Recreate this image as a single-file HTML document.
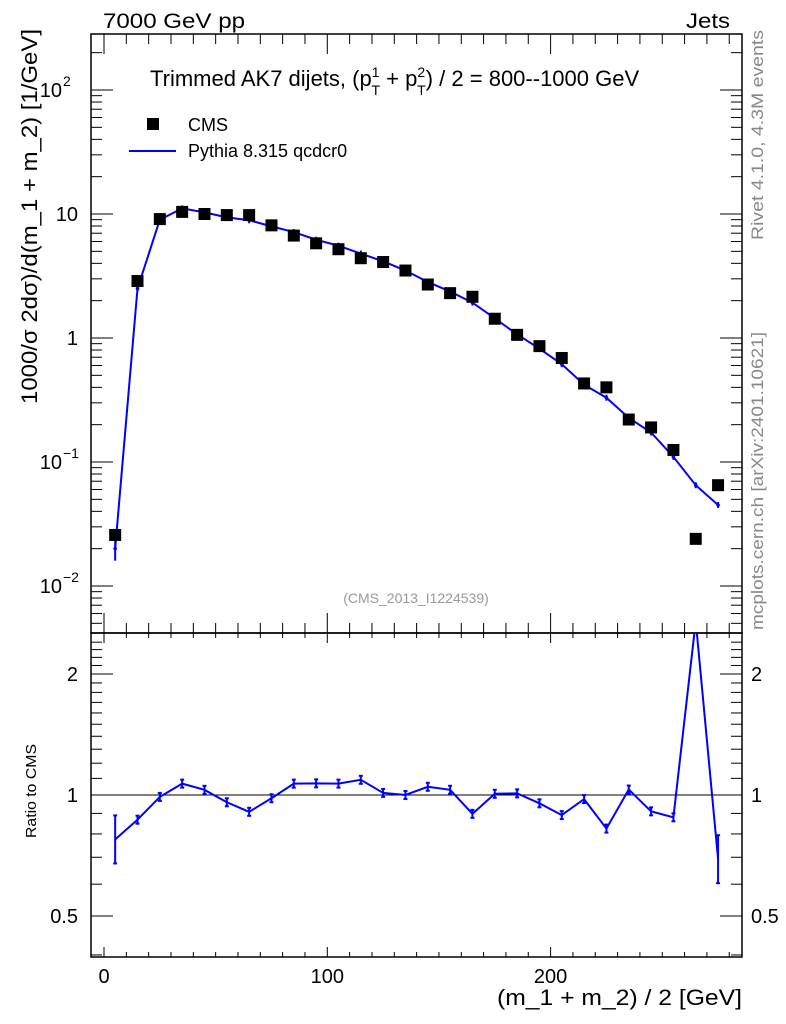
<!DOCTYPE html>
<html><head><meta charset="utf-8"><style>
body{margin:0;background:#fff;}
svg{display:block;font-family:"Liberation Sans",sans-serif;}
</style></head><body>
<svg id="c" width="786" height="1024" xmlns="http://www.w3.org/2000/svg">
<rect width="786" height="1024" fill="#fff"/>
<g id="g"></g>
<text x="103" y="28" font-size="21" textLength="142" lengthAdjust="spacingAndGlyphs">7000 GeV pp</text>
<text x="686" y="28" font-size="21" textLength="44" lengthAdjust="spacingAndGlyphs">Jets</text>
<text x="150" y="86" font-size="22">Trimmed AK7 dijets, (p<tspan dy="-9" font-size="14">1</tspan><tspan dx="-8" dy="18" font-size="14">T</tspan><tspan dy="-9"> + p</tspan><tspan dy="-9" font-size="14">2</tspan><tspan dx="-8" dy="18" font-size="14">T</tspan><tspan dy="-9">) / 2 = 800--1000 GeV</tspan></text>
<rect x="147" y="118" width="12" height="12" fill="#000"/>
<text x="188" y="131" font-size="18">CMS</text>
<line x1="129" y1="151" x2="176" y2="151" stroke="#00f" stroke-width="2"/>
<text x="188" y="157" font-size="18">Pythia 8.315 qcdcr0</text>
<text x="416" y="603" font-size="14" fill="#999" text-anchor="middle">(CMS_2013_I1224539)</text>
<text transform="translate(763,240) rotate(-90)" font-size="17" fill="#888" textLength="210" lengthAdjust="spacingAndGlyphs">Rivet 4.1.0,  4.3M events</text>
<text transform="translate(763,630) rotate(-90)" font-size="17" fill="#888" textLength="298" lengthAdjust="spacingAndGlyphs">mcplots.cern.ch [arXiv:2401.10621]</text>
<text transform="translate(37,404) rotate(-90)" font-size="22" textLength="375" lengthAdjust="spacingAndGlyphs">1000/σ   2dσ)/d(m_1 + m_2) [1/GeV]</text>
<text transform="translate(36,838) rotate(-90)" font-size="15" textLength="94" lengthAdjust="spacingAndGlyphs">Ratio to CMS</text>
<text x="497" y="1005" font-size="22" textLength="245" lengthAdjust="spacingAndGlyphs">(m_1 + m_2) / 2 [GeV]</text>
</svg>
<script>
const bins=[5,15,25,35,45,55,65,75,85,95,105,115,125,135,145,155,165,175,185,195,205,215,225,235,245,255,265,275];
const cms=[0.0258,2.88,9.1,10.4,10,9.8,9.8,8.1,6.7,5.8,5.2,4.4,4.1,3.5,2.7,2.3,2.15,1.43,1.06,0.86,0.69,0.43,0.40,0.22,0.19,0.125,0.024,0.065];
const pythia=[0.020,2.5,9.0,11.1,10.3,9.4,8.9,7.95,7.15,6.2,5.55,4.8,4.15,3.5,2.83,2.37,1.93,1.44,1.07,0.82,0.615,0.42,0.33,0.227,0.173,0.11,0.065,0.045];
const xTicks=[0,100,200];
const yTicks=[-2,-1,0,1,2];
const yTickLabels=["10","10","1","10","10"];
const yTickExp=["−2","−1","","","2"];
const rTicks=[0.5,1,2];
const rTickLabels=["0.5","1","2"];
const NS="http://www.w3.org/2000/svg";
const g=document.getElementById('g');
const L=91,R=742,T=34,M=633,B=957;
const X=v=>104+(v)*2.233;
const Y=v=>214-124*(Math.log10(v)-1);
const RY=v=>795-121*Math.log2(v);
function el(t,a,p){const e=document.createElementNS(NS,t);for(const k in a)e.setAttribute(k,a[k]);(p||g).appendChild(e);return e;}
let f=el('rect',{x:L,y:T,width:R-L,height:M-T,fill:'none',stroke:'#000','stroke-width':1.5});


f=el('rect',{x:L,y:M,width:R-L,height:B-M,fill:'none',stroke:'#000','stroke-width':1.5});


for(let v=0;v<=290;v+=10){const x=X(v);if(x<L||x>R)continue;const maj=v%100==0;
 [[T,1,maj?20:10],[M,-1,maj?20:10],[M,1,maj?10:5],[B,-1,maj?10:5]].forEach(([y,d,len])=>el('line',{x1:x,x2:x,y1:y,y2:y+d*len,stroke:'#000'}));}
xTicks.forEach(v=>{const t=el('text',{x:X(v),y:983,'font-size':20,'text-anchor':'middle'});t.textContent=v;

});
for(let d=-3;d<=2;d++)for(let m=1;m<10;m++){const v=m*Math.pow(10,d);const y=Y(v);if(y<T||y>M)continue;const len=m==1?22:11;
 el('line',{x1:L,x2:L+len,y1:y,y2:y,stroke:'#000'});el('line',{x1:R,x2:R-len,y1:y,y2:y,stroke:'#000'});}
yTicks.forEach((d,i)=>{const t=el('text',{x:yTickExp[i]?62:78,y:Y(Math.pow(10,d))+7,'font-size':20,'text-anchor':'end'});t.textContent=yTickLabels[i];
 if(yTickExp[i]){const s=el('text',{x:63,y:Y(Math.pow(10,d))-4,'font-size':14},g);s.textContent=yTickExp[i];}

});
for(let v=0.4;v<=2.5;v+=0.1){const y=RY(v);if(y<M||y>B)continue;const maj=[0.5,1,2].some(a=>Math.abs(a-v)<1e-6);const len=maj?22:11;
 el('line',{x1:L,x2:L+len,y1:y,y2:y,stroke:'#000'});el('line',{x1:R,x2:R-len,y1:y,y2:y,stroke:'#000'});}
rTicks.forEach((v,i)=>{[[78,'end'],[751,'start']].forEach(([x,a])=>{const t=el('text',{x:x,y:RY(v)+7,'font-size':20,'text-anchor':a});t.textContent=rTickLabels[i];

});});
el('line',{x1:L,x2:R,y1:RY(1),y2:RY(1),stroke:'#000'});
const cp=el('clipPath',{id:'cm'});el('rect',{x:L,y:T,width:R-L,height:M-T},cp);
const cr=el('clipPath',{id:'cr'});el('rect',{x:L,y:M,width:R-L,height:B-M},cr);
let p=el('polyline',{points:bins.map((b,i)=>X(b)+','+Y(pythia[i])).join(' '),fill:'none',stroke:'#00f','stroke-width':2,'clip-path':'url(#cm)'});


bins.forEach((b,i)=>{const y=Y(pythia[i]);const e=i==0?12:3;el('line',{x1:X(b),x2:X(b),y1:y-e,y2:y+e,stroke:'#00f','stroke-width':2});
 el('circle',{cx:X(b),cy:y,r:1.8,fill:'#00f'});});
bins.forEach((b,i)=>{const r=el('rect',{x:X(b)-6,y:Y(cms[i])-6,width:12,height:12,fill:'#000'});

});
const ratio=bins.map((b,i)=>pythia[i]/cms[i]);
p=el('polyline',{points:bins.map((b,i)=>X(b)+','+RY(ratio[i])).join(' '),fill:'none',stroke:'#00f','stroke-width':2,'clip-path':'url(#cr)'});


bins.forEach((b,i)=>{const y=RY(ratio[i]);if(y<M)return;const e=i==0?24:(i==bins.length-1?24:4);
 el('line',{x1:X(b),x2:X(b),y1:y-e,y2:y+e,stroke:'#00f','stroke-width':2});
 el('line',{x1:X(b)-2,x2:X(b)+2,y1:y-e,y2:y-e,stroke:'#00f','stroke-width':2});
 el('line',{x1:X(b)-2,x2:X(b)+2,y1:y+e,y2:y+e,stroke:'#00f','stroke-width':2});});
</script>
</body></html>
